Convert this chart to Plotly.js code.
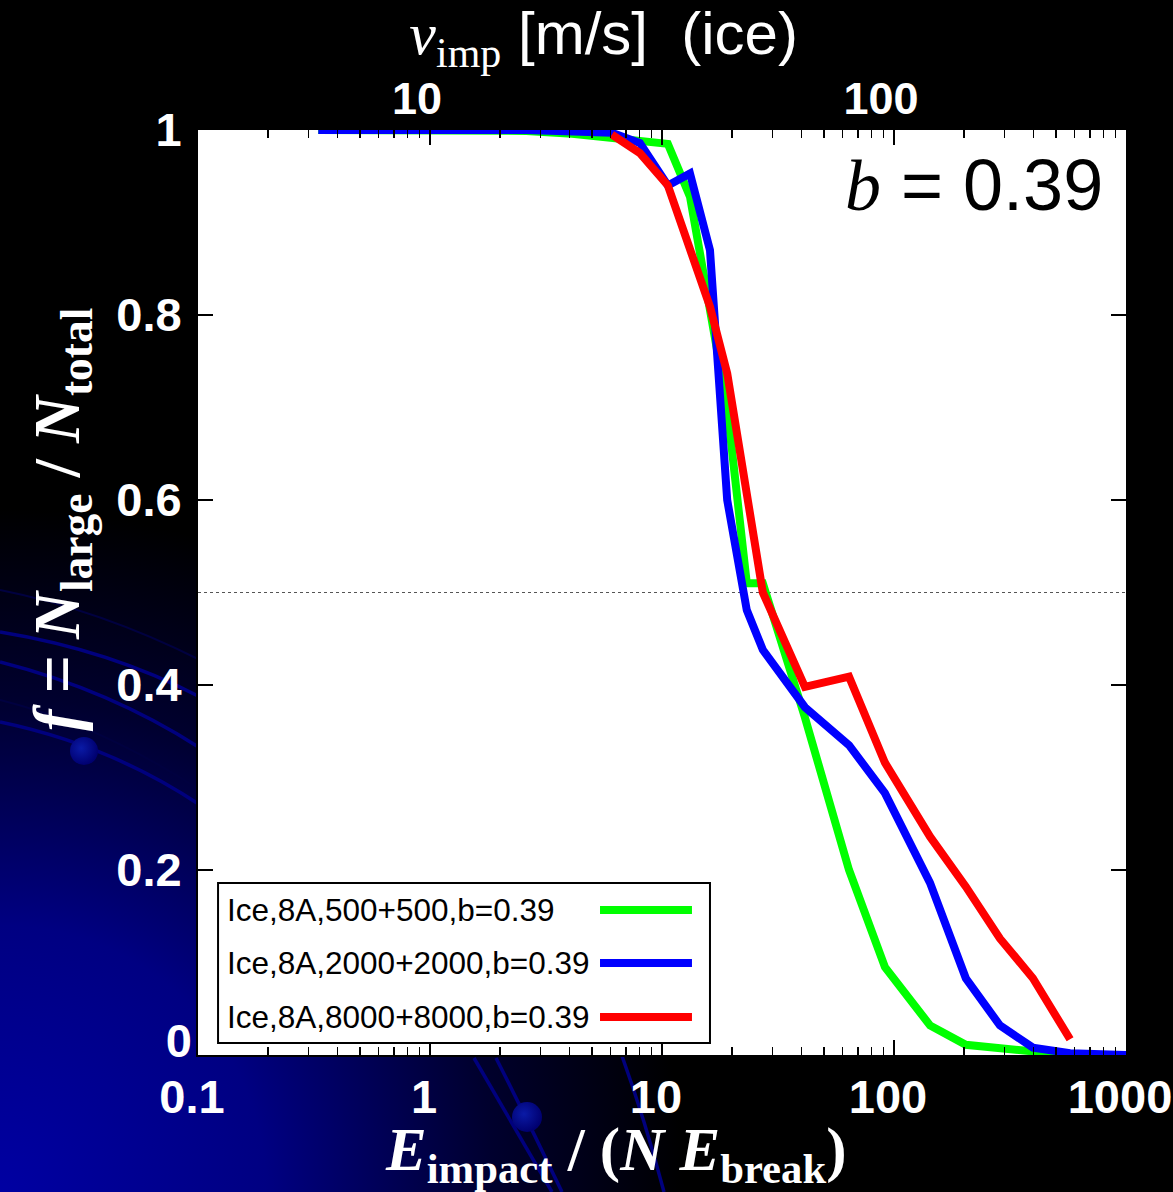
<!DOCTYPE html>
<html>
<head>
<meta charset="utf-8">
<script src="https://cdn.plot.ly/plotly-3.0.1.min.js"></script>
<style>
  html, body { margin: 0; padding: 0; background: #000; }
  #wrap { position: relative; width: 1173px; height: 1192px; overflow: hidden; }
  #bg { position: absolute; left: 0; top: 0; }
  #plot { position: absolute; left: 0; top: 0; width: 1173px; height: 1192px; }
</style>
</head>
<body>
<div id="wrap">
<svg id="bg" width="1173" height="1192" xmlns="http://www.w3.org/2000/svg">
  <defs>
    <radialGradient id="g" cx="0" cy="1192" r="760" gradientUnits="userSpaceOnUse">
      <stop offset="0" stop-color="#0000a2"/>
      <stop offset="0.35" stop-color="#000082"/>
      <stop offset="0.65" stop-color="#00002e"/>
      <stop offset="0.9" stop-color="#000000"/>
    </radialGradient>
    <radialGradient id="dot" cx="0.4" cy="0.4" r="0.6">
      <stop offset="0" stop-color="#0a1aa6"/>
      <stop offset="1" stop-color="#000070"/>
    </radialGradient>
  </defs>
  <rect x="0" y="0" width="1173" height="1192" fill="#000"/>
  <rect x="0" y="0" width="1173" height="1192" fill="url(#g)"/>
  <g fill="none" stroke="#00007e" stroke-width="3.5">
    <path d="M0,632 Q110,650 200,697"/>
    <path d="M0,662 Q110,690 200,748"/>
    <path d="M0,722 Q110,745 200,805"/>
    <path d="M474,1058 Q510,1120 552,1192"/>
    <path d="M496,1058 Q530,1125 562,1192"/>
    <path d="M622,1056 Q645,1120 664,1192"/>
  </g>
  <g fill="none" stroke="#000040" stroke-width="2">
    <path d="M0,590 Q100,610 200,660"/>
    <path d="M0,700 Q100,725 200,790"/>
  </g>
  <circle cx="84" cy="751" r="14" fill="url(#dot)"/>
  <circle cx="527" cy="1117" r="15" fill="url(#dot)"/>
</svg>
<div id="plot"></div>
</div>
<script>
// ---------------- data ----------------
const seriesNames = [
  "Ice,8A,500+500,b=0.39",
  "Ice,8A,2000+2000,b=0.39",
  "Ice,8A,8000+8000,b=0.39"
];
const seriesColors = ["#00ff00", "#0000ff", "#ff0000"];

const greenE = [0.33, 2.6, 4.1, 6.08, 8.03, 10.6, 13.2, 16.1, 19.1, 23.2, 27.2, 41.3, 64.0, 91.4, 143, 204, 286, 397, 574];
const greenF = [1.0, 0.999, 0.996, 0.992, 0.988, 0.985, 0.928, 0.808, 0.70, 0.51, 0.51, 0.365, 0.20, 0.095, 0.032, 0.011, 0.008, 0.003, 0.0];

const blueE = [0.33, 2.6, 6.08, 8.03, 10.6, 13.2, 16.1, 19.1, 23.2, 27.2, 41.3, 64.0, 91.4, 143, 204, 286, 397, 574, 1000];
const blueF = [1.0, 1.0, 0.997, 0.986, 0.94, 0.953, 0.87, 0.60, 0.481, 0.438, 0.376, 0.335, 0.283, 0.186, 0.083, 0.032, 0.008, 0.002, 0.0];

const redE = [6.08, 8.03, 10.6, 13.2, 16.1, 19.1, 23.2, 27.2, 41.3, 64.0, 91.4, 143, 204, 286, 397, 574];
const redF = [0.995, 0.975, 0.94, 0.87, 0.809, 0.737, 0.60, 0.50, 0.398, 0.409, 0.316, 0.236, 0.182, 0.126, 0.083, 0.017];

const xTickVals = [0.1, 1, 10, 100, 1000];
const xTickText = ["0.1", "1", "10", "100", "1000"];
const yTickVals = [0, 0.2, 0.4, 0.6, 0.8, 1];
const yTickText = ["", "0.2", "0.4", "0.6", "0.8", "1"];
const yZeroLabelVal = [0.016];   // the "0" label sits a little above its tick
const yZeroLabelText = ["0"];
const vTickVals = [10, 100];
const vTickText = ["10", "100"];
const bLabel = "0.39";
const halfLine = 0.5;
// ------------------------------------------------------------------------

const xMinor = [];
for (let d = -1; d < 3; d++) {
  for (let k = 2; k <= 9; k++) xMinor.push(k * Math.pow(10, d));
}

const SANS = "Liberation Sans, Arial, sans-serif";
const SERIF = "Liberation Serif, Times New Roman, serif";
const LW = 8;

const seriesE = [greenE, blueE, redE];
const seriesF = [greenF, blueF, redF];

const traces = seriesNames.map((n, i) => ({
  type: "scatter", mode: "lines", name: n,
  x: seriesE[i], y: seriesF[i],
  line: { color: seriesColors[i], width: LW },
  showlegend: false, hoverinfo: "x+y"
}));
// carrier traces for the top (velocity) axis and the zero-label axis
traces.push({
  type: "scatter", mode: "lines", x: vTickVals, y: [null, null],
  xaxis: "x2", yaxis: "y", showlegend: false, hoverinfo: "skip"
});
traces.push({
  type: "scatter", mode: "lines", x: [null], y: yZeroLabelVal,
  xaxis: "x", yaxis: "y2", showlegend: false, hoverinfo: "skip"
});

const tickFont = { family: SANS, size: 47, color: "#ffffff", weight: 700 };

const shapes = [
  { type: "line", xref: "paper", x0: 0, x1: 1, yref: "y", y0: halfLine, y1: halfLine,
    line: { color: "#555", width: 1, dash: "3px,3px" }, layer: "below" },
  // legend box
  { type: "rect", xref: "paper", yref: "paper", x0: 0.0216, x1: 0.5517, y0: 0.013, y1: 0.186,
    fillcolor: "#ffffff", line: { color: "#000", width: 2 }, layer: "above" }
];
const legendRowsY = [0.1568, 0.0995, 0.0411];
const annotations = [];
seriesNames.forEach((n, i) => {
  shapes.push({ type: "line", xref: "paper", yref: "paper", x0: 0.4332, x1: 0.5323,
    y0: legendRowsY[i], y1: legendRowsY[i], line: { color: seriesColors[i], width: 8 }, layer: "above" });
  annotations.push({ xref: "paper", yref: "paper", x: 0.0291, y: legendRowsY[i],
    xanchor: "left", yanchor: "middle", showarrow: false, text: n,
    font: { family: SANS, size: 31.5, color: "#000" } });
});
annotations.push({
  xref: "paper", yref: "paper", x: 0.977, y: 0.94, xanchor: "right", yanchor: "middle",
  showarrow: false,
  text: "<span style='font-family:" + SERIF + "'><i>b</i></span> = " + bLabel,
  font: { family: SANS, size: 72, color: "#000" }
});

const layout = {
  width: 1173, height: 1192,
  margin: { l: 198, r: 47, t: 130, b: 137, pad: 0 },
  paper_bgcolor: "rgba(0,0,0,0)",
  plot_bgcolor: "#ffffff",
  showlegend: false,
  xaxis: {
    type: "log", range: [-1, 3.00001],
    tickmode: "array", tickvals: xTickVals, ticktext: xTickText,
    ticks: "inside", ticklen: 15, tickwidth: 2, tickcolor: "#000",
    minor: { tickmode: "array", tickvals: xMinor, ticks: "inside", ticklen: 8, tickwidth: 1.5, tickcolor: "#000", showgrid: false },
    showline: true, linecolor: "#000", linewidth: 2, mirror: "ticks",
    showgrid: false, zeroline: false,
    tickfont: tickFont, ticklabelstandoff: 0,
    ticklabeloverflow: "allow", ticklabelshift: -6,
    title: {
      text: "<i>E</i><sub>impact</sub> / (<i>N</i> <i>E</i><sub>break</sub>)&nbsp;&nbsp;&nbsp;&nbsp;&nbsp;&nbsp;",
      font: { family: SERIF, size: 61, color: "#ffffff", weight: 700 },
      standoff: 13
    }
  },
  xaxis2: {
    type: "log", range: [0.5, 2.5], overlaying: "x", side: "top",
    tickmode: "array", tickvals: vTickVals, ticktext: vTickText,
    ticks: "", showline: false, showgrid: false, zeroline: false,
    tickfont: { family: SANS, size: 45, color: "#ffffff", weight: 700 },
    ticklabelshift: -13, ticklabelstandoff: 6,
    title: {
      text: "<span style='font-family:" + SERIF + "'><i>v</i><sub>imp</sub></span> [m/s]  (ice)&nbsp;&nbsp;&nbsp;&nbsp;&nbsp;&nbsp;&nbsp;",
      font: { family: SANS, size: 60, color: "#ffffff" },
      standoff: 2
    }
  },
  yaxis: {
    range: [0, 1],
    tickmode: "array", tickvals: yTickVals, ticktext: yTickText,
    ticks: "inside", ticklen: 15, tickwidth: 2, tickcolor: "#000",
    showline: true, linecolor: "#000", linewidth: 2, mirror: "ticks",
    showgrid: false, zeroline: false,
    tickfont: tickFont, ticklabelstandoff: 5,
    title: {
      text: "&nbsp;&nbsp;&nbsp;&nbsp;&nbsp;&nbsp;&nbsp;&nbsp;&nbsp;<i>f</i> <span style='font-family:" + SANS + ";font-weight:normal'>=</span> <i>N</i><sub>large</sub> / <i>N</i><sub>total</sub>",
      font: { family: SERIF, size: 65, color: "#ffffff", weight: 700 },
      standoff: 16
    }
  },
  yaxis2: {
    range: [0, 1], overlaying: "y", side: "left",
    tickmode: "array", tickvals: yZeroLabelVal, ticktext: yZeroLabelText,
    ticks: "", showline: false, showgrid: false, zeroline: false,
    tickfont: tickFont, ticklabelstandoff: 5
  },
  shapes: shapes,
  annotations: annotations
};

Plotly.newPlot("plot", traces, layout, { displayModeBar: false, staticPlot: true });
</script>
</body>
</html>
